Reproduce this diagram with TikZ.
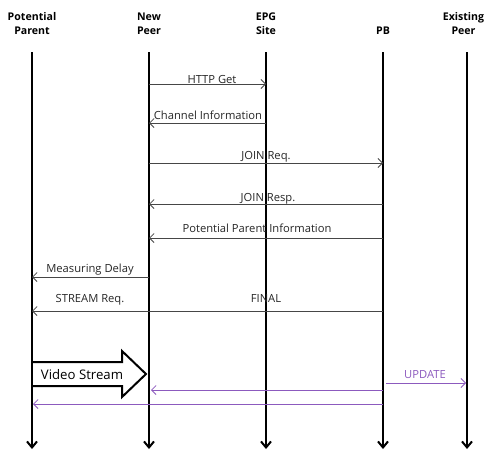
\documentclass[tikz,border=0pt]{standalone}
\usepackage{fontspec}
\setmainfont{Open Sans}
\usetikzlibrary{arrows.meta,shapes.arrows}
\definecolor{msg}{RGB}{70,70,70}
\definecolor{upd}{RGB}{140,90,190}
\tikzset{
  head/.style={font=\fontsize{10.6}{14}\selectfont\bfseries, align=center, anchor=base, inner sep=0pt},
  life/.style={line width=2.4pt, -{Straight Barb[length=6pt,width=10pt,line width=2pt]}},
  msgline/.style={draw=msg, line width=0.8pt, -{Straight Barb[length=4.5pt,width=9pt,line width=0.8pt]}},
  updline/.style={msgline, draw=upd},
  lbl/.style={font=\fontsize{11.2}{13}\selectfont, text=black!85, anchor=base, inner sep=0pt},
}
\begin{document}
\begin{tikzpicture}[x=1pt,y=-1pt]
\useasboundingbox (0,0) rectangle (486,450);
% participant headings
\node[head] at (32,34) {Potential\\Parent};
\node[head] at (149,34) {New\\Peer};
\node[head] at (266,34) {EPG\\Site};
\node[head] at (383,34) {PB};
\node[head] at (463.5,34) {Existing\\Peer};
% lifeline ends
\coordinate (pt) at (32,52);   \coordinate (pb) at (32,449);
\coordinate (nt) at (149,52);  \coordinate (nb) at (149,449);
\coordinate (et) at (266,52);  \coordinate (eb) at (266,449);
\coordinate (bt) at (383,52);  \coordinate (bb) at (383,449);
\coordinate (xt) at (467,52);  \coordinate (xb) at (467,449);
\foreach \a/\b in {pt/pb,nt/nb,et/eb,bt/bb,xt/xb} \draw[life] (\a) -- (\b);
% messages
\draw[msgline] (149,84) -- (266,84);
\node[lbl] at (212,83) {HTTP Get};
\draw[msgline] (266,123) -- (149,123);
\node[lbl] at (208,119) {Channel Information};
\draw[msgline] (149,163) -- (383,163);
\node[lbl] at (266,159) {JOIN Req.};
\draw[msgline] (383,204) -- (149,204);
\node[lbl] at (268,201) {JOIN Resp.};
\draw[msgline] (383,238) -- (149,238);
\node[lbl] at (257,232) {Potential Parent Information};
\draw[msgline] (149,277) -- (32,277);
\node[lbl] at (90,272) {Measuring Delay};
\draw[msgline, {Straight Barb[length=4.5pt,width=9pt,line width=0.8pt]}-] (32,311) -- (383,311);
\node[lbl] at (90,302) {STREAM Req.};
\node[lbl] at (266,302) {FINAL};
% video stream block arrow
\draw[line width=2pt, fill=white, line join=miter]
  (33,362) -- (122,362) -- (122,351) -- (146,374) -- (122,397) -- (122,386) -- (33,386);
\node[font=\fontsize{13.2}{15}\selectfont, anchor=base] at (82,379) {Video Stream};
% update messages
\draw[updline] (386,383) -- (466,383);
\node[lbl, text=upd] at (425,378) {UPDATE};
\draw[updline] (383,390) -- (151,390);
\draw[updline] (383,404) -- (33,404);
\end{tikzpicture}
\end{document}
